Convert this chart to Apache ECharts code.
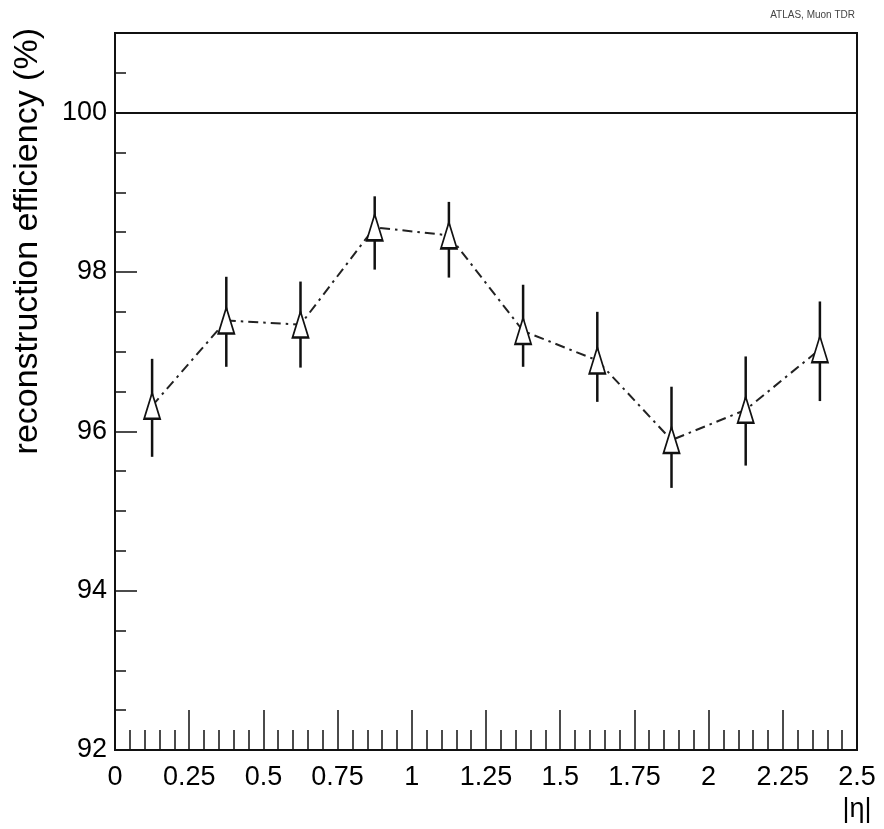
<!DOCTYPE html>
<html>
<head>
<meta charset="utf-8">
<script src="https://cdn.jsdelivr.net/npm/echarts@6/dist/echarts.min.js"></script>
<style>
html,body{margin:0;padding:0;background:#fff;}
#chart{width:884px;height:829px;}
</style>
</head>
<body>
<div id="chart"></div>
<script>
// |eta| bin centres
const etaBins = [0.125, 0.375, 0.625, 0.875, 1.125, 1.375, 1.625, 1.875, 2.125, 2.375];
// reconstruction efficiency (%)
const efficiency = [96.32, 97.39, 97.34, 98.56, 98.46, 97.26, 96.89, 95.89, 96.27, 97.03];
// error bar ends (%)
const errLow  = [95.68, 96.81, 96.80, 98.03, 97.93, 96.81, 96.37, 95.29, 95.57, 96.38];
const errHigh = [96.91, 97.94, 97.88, 98.95, 98.88, 97.84, 97.50, 96.56, 96.94, 97.63];
// reference level
const referenceLevel = 100;
const yTitle = 'reconstruction efficiency (%)';
const xTitle = '|η|';
const tag = 'ATLAS, Muon TDR';

const FONT = '"Liberation Sans", Arial, Helvetica, sans-serif';
const INK = '#111';

const chart = echarts.init(document.getElementById('chart'), null, {renderer: 'canvas'});

const option = {
  animation: false,
  backgroundColor: '#fff',
  grid: {
    left: 115, right: 27, top: 33, bottom: 79,
    show: true, borderColor: INK, borderWidth: 2, backgroundColor: 'transparent'
  },
  xAxis: {
    type: 'value', min: 0, max: 2.5, interval: 0.25,
    axisLine: {show: true, lineStyle: {color: INK, width: 2}},
    axisTick: {show: true, inside: true, length: 40, lineStyle: {color: INK, width: 1.5}},
    minorTick: {show: true, splitNumber: 5, length: 20, lineStyle: {color: INK, width: 1.5}},
    splitLine: {show: false},
    axisLabel: {
      color: '#000', fontSize: 27, fontFamily: FONT, margin: 14,
      showMinLabel: true, showMaxLabel: true
    }
  },
  yAxis: [
    {
      type: 'value', min: 92, max: 101, interval: 0.5,
      axisLine: {show: true, lineStyle: {color: INK, width: 2}},
      axisTick: {show: true, inside: true, length: 11, lineStyle: {color: INK, width: 1.5}},
      splitLine: {show: false},
      axisLabel: {show: false}
    },
    {
      type: 'value', min: 92, max: 101, interval: 2, position: 'left', offset: 0,
      axisLine: {show: false},
      axisTick: {show: true, inside: true, length: 22, lineStyle: {color: INK, width: 1.5}},
      splitLine: {show: false},
      axisLabel: {
        color: '#000', fontSize: 27, fontFamily: FONT, margin: 8,
        formatter: function (v) { return v > 100 ? '' : String(v); }
      }
    }
  ],
  series: [
    {
      type: 'custom',
      z: 2,
      silent: true,
      data: etaBins.map((x, i) => [x, errLow[i], errHigh[i]]),
      encode: {x: 0, y: [1, 2]},
      renderItem: function (params, api) {
        const p1 = api.coord([api.value(0), api.value(1)]);
        const p2 = api.coord([api.value(0), api.value(2)]);
        return {
          type: 'line',
          shape: {x1: p1[0], y1: p1[1], x2: p2[0], y2: p2[1]},
          style: {stroke: INK, lineWidth: 2.5}
        };
      }
    },
    {
      type: 'line',
      z: 3,
      data: etaBins.map((x, i) => [x, efficiency[i]]),
      symbol: 'triangle',
      symbolSize: [16, 26],
      showAllSymbol: true,
      lineStyle: {color: '#222', width: 2, type: [10, 5, 2.5, 5]},
      itemStyle: {color: '#fff', borderColor: INK, borderWidth: 2},
      markLine: {
        silent: true,
        symbol: 'none',
        label: {show: false},
        lineStyle: {color: INK, width: 2, type: 'solid'},
        data: [{yAxis: referenceLevel}]
      }
    }
  ],
  graphic: [
    {
      type: 'text', x: 28, y: 28, rotation: Math.PI / 2,
      style: {
        text: yTitle, fill: '#000', font: '34px ' + FONT,
        align: 'right', verticalAlign: 'middle'
      }
    },
    {
      type: 'text', x: 857, y: 810,
      style: {text: xTitle, fill: '#000', font: '27px ' + FONT, align: 'center', verticalAlign: 'middle'}
    },
    {
      type: 'text', x: 855, y: 15,
      style: {text: tag, fill: '#444', font: '10px ' + FONT, align: 'right', verticalAlign: 'middle'}
    }
  ]
};
chart.setOption(option);
</script>
</body>
</html>
